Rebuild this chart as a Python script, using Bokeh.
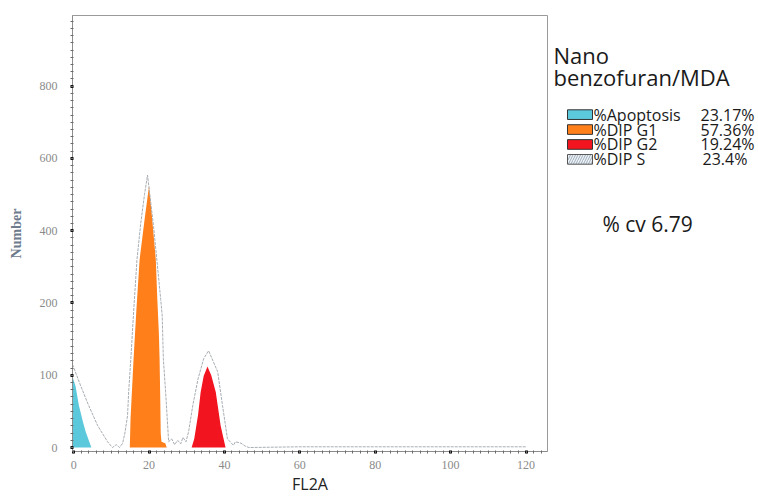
from bokeh.plotting import figure
from bokeh.models import Range1d, FixedTicker
from bokeh.layouts import row
from bokeh.embed import file_html
from bokeh.resources import INLINE
from bokeh.core.properties import value

# ---- data (FL2A channel vs Number) ----
apoptosis_x = [-0.3, 0.5, 1.4, 2.5, 3.2, 4.7]
apoptosis_y = [98, 85, 58, 35, 22, 0]

g1_x = [14.9, 15.1, 15.9, 16.7, 17.5, 18.8, 20.0, 20.6, 21.2, 21.8, 22.2, 22.6, 22.8, 23.0, 23.1, 23.3, 24.3, 24.7]
g1_y = [0, 40, 123, 195, 260, 315, 362, 330, 295, 260, 205, 160, 123, 60, 20, 8, 6, 0]

g2_x = [31.3, 32.0, 33.0, 33.7, 34.5, 35.5, 36.5, 37.7, 39.0, 40.3]
g2_y = [0, 12, 45, 77, 99, 112, 100, 77, 30, 0]

fit_x = [-0.3, 1.9, 4.0, 6.4, 9.0, 10.3, 11.3, 12.2, 13.0, 13.6, 14.3, 14.6, 15.2, 16.0, 16.8, 17.8,
         18.8, 19.6, 21.2, 22.5, 23.1, 23.5, 23.8, 24.4, 25.2, 26.0, 26.8, 27.6, 28.4, 29.0, 29.8,
         30.5, 31.6, 33.0, 34.5, 35.8, 38.2, 39.5, 40.8, 42.4, 42.9, 44.4, 45.5, 46.5, 60.0, 80.0, 100.0, 120.0]
fit_y = [115, 85, 58, 30, 8, 0, 4, 0, 6, 20, 44, 77, 125, 195, 260, 310,
         350, 377, 306, 237, 205, 182, 123, 77, 8, 12, 4, 10, 5, 14, 8,
         22, 58, 95, 123, 134, 105, 58, 12, 3, 8, 6, 2, 0, 1, 1, 1, 1]

x_ticks = [0, 20, 40, 60, 80, 100, 120]
y_ticks = [0, 100, 200, 300, 400, 500]
y_tick_labels = ["0", "100", "200", "400", "600", "800"]

legend_names = ["%Apoptosis", "%DIP G1", "%DIP G2", "%DIP S"]
legend_values = ["23.17%", "57.36%", "19.24%", "23.4%"]
legend_colors = ["#5cc8dc", "#ff7f1a", "#f2141e"]
title_lines = ["Nano", "benzofuran/MDA"]
cv_text = "% cv 6.79"

# ---- histogram figure ----
p = figure(width=548, height=497, x_range=Range1d(-0.3, 125.7), y_range=Range1d(-5.5, 597.8),
           output_backend="svg", toolbar_location=None,
           min_border_left=72, min_border_right=1, min_border_top=15, min_border_bottom=44)
p.xgrid.visible = False
p.ygrid.visible = False
p.outline_line_color = "#9a9a9a"

p.varea(x=apoptosis_x, y1=0, y2=apoptosis_y, fill_color=legend_colors[0])
p.varea(x=g1_x, y1=0, y2=g1_y, fill_color=legend_colors[1])
p.varea(x=g2_x, y1=0, y2=g2_y, fill_color=legend_colors[2])
p.line(fit_x, fit_y, line_color="#a8adb2", line_width=1, line_dash="3 1")

p.xaxis.ticker = FixedTicker(ticks=x_ticks, minor_ticks=list(range(0, 126, 2)))
p.yaxis.ticker = FixedTicker(ticks=y_ticks, minor_ticks=list(range(0, 598, 10)))
p.yaxis.major_label_overrides = {t: l for t, l in zip(y_ticks, y_tick_labels)}

for ax in (p.xaxis[0], p.yaxis[0]):
    ax.axis_line_color = "#8c8c8c"
    ax.major_tick_line_color = "#111111"
    ax.major_tick_line_width = 3
    ax.major_tick_out = 2
    ax.major_tick_in = 1
    ax.minor_tick_line_color = "#6a6a6a"
    ax.minor_tick_out = 2
    ax.minor_tick_in = 1
    ax.major_label_text_font = "Liberation Serif"
    ax.major_label_text_font_size = "12px"
    ax.major_label_text_color = "#8a8a8a"

p.xaxis.major_label_standoff = 7
p.xaxis.axis_label = "FL2A"
p.xaxis.axis_label_text_font = "Open Sans"
p.xaxis.axis_label_text_font_size = "16px"
p.xaxis.axis_label_text_font_style = "normal"
p.xaxis.axis_label_text_color = "#222222"
p.xaxis.axis_label_standoff = 1

p.yaxis.major_label_standoff = 13
p.yaxis.axis_label = "Number"
p.yaxis.axis_label_text_font = "Liberation Serif"
p.yaxis.axis_label_text_font_size = "14px"
p.yaxis.axis_label_text_font_style = "bold"
p.yaxis.axis_label_text_color = "#6d7b8d"
p.yaxis.axis_label_standoff = 13

# ---- side panel ----
q = figure(width=210, height=497, x_range=Range1d(0, 210), y_range=Range1d(497, 0),
           output_backend="svg", toolbar_location=None, min_border=0,
           x_axis_location=None, y_axis_location=None)
q.grid.visible = False
q.outline_line_color = None

q.text(x=[5, 5], y=[45, 70], text=title_lines, text_font=value("Open Sans"),
       text_font_size="22px", text_baseline="alphabetic", text_color="#1a1a1a")

row_y = [113, 130, 147, 164]
q.rect(x=[31.5] * 3, y=row_y[:3], width=25, height=11, fill_color=legend_colors,
       line_color="#333333", line_width=1)
q.rect(x=[31.5], y=[row_y[3]], width=25, height=11, fill_color="#eef3f8",
       hatch_pattern="/", hatch_color="#8a9aaa", hatch_scale=5, hatch_weight=0.8,
       line_color="#555555", line_width=1)
q.text(x=[45] * 4, y=row_y, text=legend_names, text_font=value("Open Sans"),
       text_font_size="16px", text_baseline="middle", text_color="#1a1a1a")
q.text(x=[152, 152, 152, 154], y=row_y, text=legend_values, text_font=value("Open Sans"),
       text_font_size="16px", text_baseline="middle", text_color="#1a1a1a")
q.text(x=[54], y=[238], text=[cv_text], text_font=value("Open Sans"),
       text_font_size="21px", text_baseline="middle", text_color="#1a1a1a")

layout = row(p, q)
open("out.html", "w").write(file_html(layout, INLINE))
